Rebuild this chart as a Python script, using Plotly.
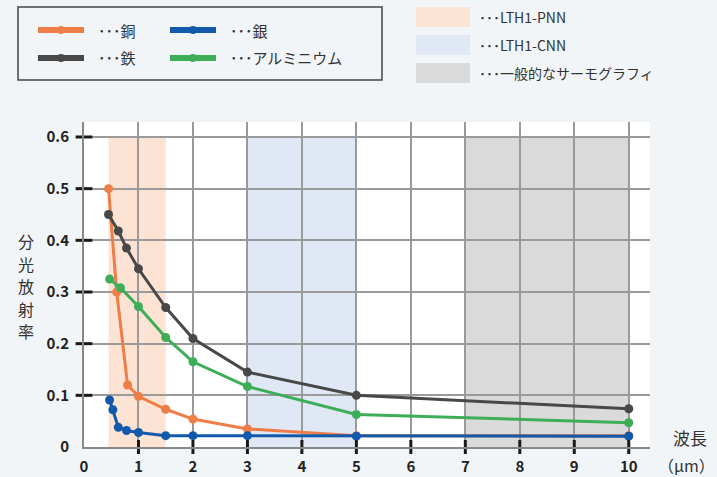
import plotly.graph_objects as go

# ---- data ----
cu_x = [0.45, 0.6, 0.8, 1.0, 1.5, 2, 3, 5, 10]
cu_y = [0.50, 0.30, 0.12, 0.098, 0.073, 0.054, 0.035, 0.022, 0.022]
fe_x = [0.45, 0.63, 0.78, 1.0, 1.5, 2, 3, 5, 10]
fe_y = [0.45, 0.418, 0.385, 0.345, 0.27, 0.21, 0.145, 0.10, 0.074]
al_x = [0.47, 0.67, 1.0, 1.5, 2, 3, 5, 10]
al_y = [0.325, 0.308, 0.272, 0.212, 0.165, 0.117, 0.063, 0.047]
ag_x = [0.47, 0.53, 0.63, 0.78, 1.0, 1.5, 2, 3, 5, 10]
ag_y = [0.091, 0.072, 0.038, 0.032, 0.028, 0.022, 0.022, 0.022, 0.021, 0.021]

bands = [
    ("LTH1-PNN", 0.45, 1.5, "#FDE3D3"),
    ("LTH1-CNN", 3, 5, "#E0E8F6"),
    ("一般的なサーモグラフィ", 7, 10, "#DADADA"),
]
band_top = 0.6

x_ticks = [0, 1, 2, 3, 4, 5, 6, 7, 8, 9, 10]
y_ticks = [0, 0.1, 0.2, 0.3, 0.4, 0.5, 0.6]
y_tick_text = ["0", "0.1", "0.2", "0.3", "0.4", "0.5", "0.6"]

series = [
    ("銅", cu_x, cu_y, "#EF7D47"),
    ("鉄", fe_x, fe_y, "#484848"),
    ("アルミニウム", al_x, al_y, "#3DAE57"),
    ("銀", ag_x, ag_y, "#1159AA"),
]
y_title_chars = ["分", "光", "放", "射", "率"]

FONT = "Noto Sans CJK JP"
BG = "#F2F5F7"

fig = go.Figure()

for name, xs, ys, col in series:
    fig.add_trace(go.Scatter(
        x=xs, y=ys, mode="lines+markers", name=name,
        line=dict(color=col, width=3),
        marker=dict(color=col, size=9),
        showlegend=False, cliponaxis=False, hoverinfo="skip"))

# tick marks crossing the axes
fig.add_trace(go.Scatter(
    x=x_ticks[1:], y=[0] * (len(x_ticks) - 1), mode="markers",
    marker=dict(symbol="line-ns", size=10, line=dict(width=3, color="#1a1a1a")),
    showlegend=False, cliponaxis=False, hoverinfo="skip"))
fig.add_trace(go.Scatter(
    x=[0] * (len(y_ticks) - 1), y=y_ticks[1:], mode="markers",
    marker=dict(symbol="line-ew", size=12, line=dict(width=3, color="#1a1a1a")),
    showlegend=False, cliponaxis=False, hoverinfo="skip"))

for label, x0, x1, col in bands:
    fig.add_shape(type="rect", xref="x", yref="y", x0=x0, x1=x1, y0=0, y1=band_top,
                  fillcolor=col, line=dict(width=0), layer="below")

# plot area pixel geometry
L, R, T, B = 84, 650, 122, 447
def px(p):
    return (p - L) / (R - L)
def py(p):
    return (B - p) / (B - T)

# legend box for metals
fig.add_shape(type="rect", xref="paper", yref="paper",
              x0=px(18), x1=px(382), y0=py(80), y1=py(7),
              line=dict(color="#444444", width=1.5), fillcolor="rgba(0,0,0,0)")
leg_pos = {"銅": (38, 30), "銀": (170, 30), "鉄": (38, 58), "アルミニウム": (170, 58)}
for name, xs, ys, col in series:
    lx, ly = leg_pos[name]
    fig.add_shape(type="line", xref="paper", yref="paper",
                  x0=px(lx), x1=px(lx + 46), y0=py(ly), y1=py(ly),
                  line=dict(color=col, width=6))
    fig.add_shape(type="circle", xref="paper", yref="paper",
                  x0=px(lx + 19), x1=px(lx + 27), y0=py(ly + 4), y1=py(ly - 4),
                  fillcolor=col, line=dict(width=0))
    fig.add_annotation(xref="paper", yref="paper", x=px(lx + 58), y=py(ly),
                       text="･･･" + name, showarrow=False, xanchor="left", yanchor="middle",
                       font=dict(family=FONT, size=15, color="#333333"))

# legend for bands
for i, (label, x0, x1, col) in enumerate(bands):
    top = 7 + i * 28
    fig.add_shape(type="rect", xref="paper", yref="paper",
                  x0=px(416), x1=px(470), y0=py(top + 20), y1=py(top),
                  fillcolor=col, line=dict(width=0))
    fig.add_annotation(xref="paper", yref="paper", x=px(477), y=py(top + 10),
                       text="･･･" + label, showarrow=False, xanchor="left", yanchor="middle",
                       font=dict(family=FONT, size=14, color="#333333"))

# axis titles
for i, ch in enumerate(y_title_chars):
    fig.add_annotation(xref="paper", yref="paper", x=px(26), y=py(241 + i * 22.5),
                       text=ch, showarrow=False, xanchor="center", yanchor="middle",
                       borderpad=0,
                       font=dict(family=FONT, size=16, color="#333333"))
fig.add_annotation(xref="paper", yref="paper", x=px(690), y=py(437),
                   text="波長", showarrow=False, xanchor="center", yanchor="middle",
                   font=dict(family=FONT, size=17, color="#333333"))
fig.add_annotation(xref="paper", yref="paper", x=px(717), y=py(465),
                   text="（μm）", showarrow=False, xanchor="right", yanchor="middle",
                   font=dict(family=FONT, size=16, color="#333333"))

fig.update_layout(
    width=717, height=477,
    margin=dict(l=L, r=717 - R, t=T, b=477 - B),
    paper_bgcolor=BG, plot_bgcolor="white",
    font=dict(family=FONT),
    showlegend=False,
)
fig.update_xaxes(
    range=[0, 10.39], tickvals=x_ticks, ticktext=[str(v) for v in x_ticks],
    showgrid=True, gridcolor="#9a9a9a", gridwidth=1.5, automargin=False,
    zeroline=False, showline=True, linecolor="#888888", linewidth=2,
    ticks="", ticklabelstandoff=5,
    tickfont=dict(family=FONT, size=15, color="#222222", weight="bold"),
)
fig.update_yaxes(
    range=[0, 0.629], tickvals=y_ticks, ticktext=y_tick_text,
    showgrid=True, gridcolor="#9a9a9a", gridwidth=1.5, automargin=False,
    zeroline=False, showline=True, linecolor="#888888", linewidth=2,
    ticks="", ticklabelstandoff=10,
    tickfont=dict(family=FONT, size=15, color="#222222", weight="bold"),
)

fig.write_html(
    "out.html",
    config={"displayModeBar": False},
    post_script="document.body.style.margin='0';document.body.style.background='" + BG + "';",
)
